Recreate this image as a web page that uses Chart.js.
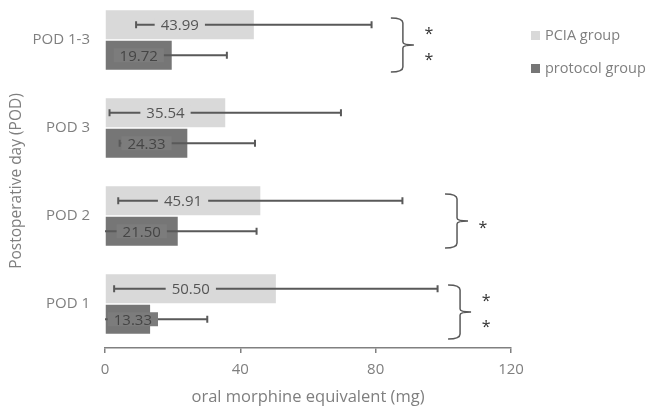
<!DOCTYPE html>
<html>
<head>
<meta charset="utf-8">
<script src="https://cdn.jsdelivr.net/npm/chart.js@4.4.0/dist/chart.umd.min.js"></script>
<style>
  body { margin: 0; background: #fff; }
  #wrap { position: relative; width: 649px; height: 412px; overflow: hidden; }
  canvas { position: absolute; left: 0; top: -4px; }
</style>
</head>
<body>
<div id="wrap"><canvas id="chart" width="649" height="416"></canvas></div>
<script>
const categories = ['POD 1-3', 'POD 3', 'POD 2', 'POD 1'];
const pciaMean = [43.99, 35.54, 45.91, 50.50];
const pciaSD = [34.8, 34.2, 42.0, 47.8];
const protocolMean = [19.72, 24.33, 21.50, 13.33];
const protocolSD = [16.3, 20.0, 23.3, 16.9];
const xTicks = [0, 40, 80, 120];
const seriesNames = ['PCIA group', 'protocol group'];
const seriesColors = ['#d9d9d9', '#767676'];
// significance braces: category, x value where the brace starts, stars
const brackets = [
  { cat: 'POD 1-3', x: 84.5, stars: 2, dy: 0 },
  { cat: 'POD 2', x: 100.5, stars: 1, dy: 0 },
  { cat: 'POD 1', x: 101.4, stars: 2, dy: 3 }
];

const sds = [pciaSD, protocolSD];
const FONT = "'Open Sans', sans-serif";
const GREY = '#7f7f7f';
const DARK = '#595959';

function drawBrace(ctx, x, yTop, yBot) {
  const xv = x + 12, xt = x + 23, ym = (yTop + yBot) / 2;
  ctx.beginPath();
  ctx.moveTo(x, yTop);
  ctx.quadraticCurveTo(xv, yTop, xv, yTop + 5);
  ctx.lineTo(xv, ym - 3);
  ctx.quadraticCurveTo(xv, ym, xt, ym);
  ctx.moveTo(xt, ym);
  ctx.quadraticCurveTo(xv, ym, xv, ym + 3);
  ctx.lineTo(xv, yBot - 5);
  ctx.quadraticCurveTo(xv, yBot, x, yBot);
  ctx.stroke();
}

const extras = {
  id: 'extras',
  afterDatasetsDraw(chart) {
    const ctx = chart.ctx;
    const xs = chart.scales.x, ys = chart.scales.y;
    const area = chart.chartArea;
    ctx.save();

    // error bars
    ctx.strokeStyle = DARK;
    ctx.lineWidth = 2;
    chart.data.datasets.forEach((ds, di) => {
      chart.getDatasetMeta(di).data.forEach((bar, i) => {
        const lo = ds.data[i] - sds[di][i], hi = ds.data[i] + sds[di][i];
        const x0 = xs.getPixelForValue(lo), x1 = xs.getPixelForValue(hi);
        const y = bar.y;
        const left = Math.max(x0, area.left);
        ctx.beginPath();
        ctx.moveTo(left, y); ctx.lineTo(x1, y);
        ctx.moveTo(x1, y - 3.5); ctx.lineTo(x1, y + 3.5);
        if (x0 >= area.left) { ctx.moveTo(x0, y - 3.5); ctx.lineTo(x0, y + 3.5); }
        ctx.stroke();
      });
    });

    // value labels in the middle of each bar
    ctx.font = '15px ' + FONT;
    ctx.textAlign = 'center';
    ctx.textBaseline = 'middle';
    chart.data.datasets.forEach((ds, di) => {
      chart.getDatasetMeta(di).data.forEach((bar, i) => {
        const txt = ds.data[i].toFixed(2);
        const w = ctx.measureText(txt).width + 12;
        const cx = Math.max((bar.base + bar.x) / 2, bar.base + w / 2 + 2);
        ctx.fillStyle = di === 0 ? seriesColors[0] : '#7c7c7c';
        ctx.fillRect(cx - w / 2, bar.y - 7, w, 14);
        ctx.fillStyle = di === 0 ? '#555555' : '#454545';
        ctx.fillText(txt, cx, bar.y + 1);
      });
    });

    // braces and stars
    ctx.strokeStyle = DARK;
    ctx.lineWidth = 1.5;
    brackets.forEach(b => {
      const cy = ys.getPixelForValue(categories.indexOf(b.cat)) + b.dy;
      const x = xs.getPixelForValue(b.x);
      const top = cy - 22, bot = cy + 32, mid = (top + bot) / 2;
      drawBrace(ctx, x, top, bot);
      ctx.fillStyle = '#333333';
      ctx.font = '16px ' + FONT;
      const starY = b.stars === 2 ? [mid - 14, mid + 12] : [mid + 4];
      starY.forEach(sy => ctx.fillText('*', x + 38, sy + 3));
    });

    // legend
    ctx.font = '14.5px ' + FONT;
    ctx.textAlign = 'left';
    seriesNames.forEach((name, i) => {
      const y = 39.5 + i * 33;
      ctx.fillStyle = seriesColors[i];
      ctx.fillRect(531, y - 4.5, 9, 9);
      ctx.fillStyle = GREY;
      ctx.fillText(name, 545, y);
    });

    // y axis title
    ctx.translate(17, 185);
    ctx.rotate(-Math.PI / 2);
    ctx.textAlign = 'center';
    ctx.font = '15.5px ' + FONT;
    ctx.fillStyle = GREY;
    ctx.fillText('Postoperative day (POD)', 0, 0);
    ctx.restore();
  }
};

new Chart(document.getElementById('chart'), {
  type: 'bar',
  data: {
    labels: categories,
    datasets: [
      { label: seriesNames[0], data: pciaMean, backgroundColor: seriesColors[0] },
      { label: seriesNames[1], data: protocolMean, backgroundColor: seriesColors[1] }
    ]
  },
  options: {
    indexAxis: 'y',
    responsive: false,
    animation: false,
    devicePixelRatio: 1,
    categoryPercentage: 0.693,
    barPercentage: 0.95,
    layout: { padding: { left: 0, right: 138, top: 0, bottom: 0 } },
    plugins: { legend: { display: false }, tooltip: { enabled: false } },
    scales: {
      x: {
        min: 0, max: 120,
        afterBuildTicks: s => { s.ticks = xTicks.map(v => ({ value: v })); },
        grid: { drawOnChartArea: false, drawTicks: true, tickLength: 5, color: '#808080', lineWidth: 1.5 },
        border: { color: '#808080', width: 1.5 },
        ticks: { padding: 8, font: { family: FONT, size: 15 }, color: GREY },
        title: { display: true, text: 'oral morphine equivalent (mg)', font: { family: FONT, size: 16.5 }, color: GREY, padding: { top: 0, bottom: 5 } },
        afterFit: s => { s.height = 64; }
      },
      y: {
        grid: { display: false, drawTicks: false },
        border: { display: false },
        ticks: { padding: 15, font: { family: FONT, size: 15 }, color: GREY },
        afterFit: s => { s.width = 105; s.paddingTop = 0; s.paddingBottom = 0; }
      }
    }
  },
  plugins: [extras]
});
</script>
</body>
</html>
